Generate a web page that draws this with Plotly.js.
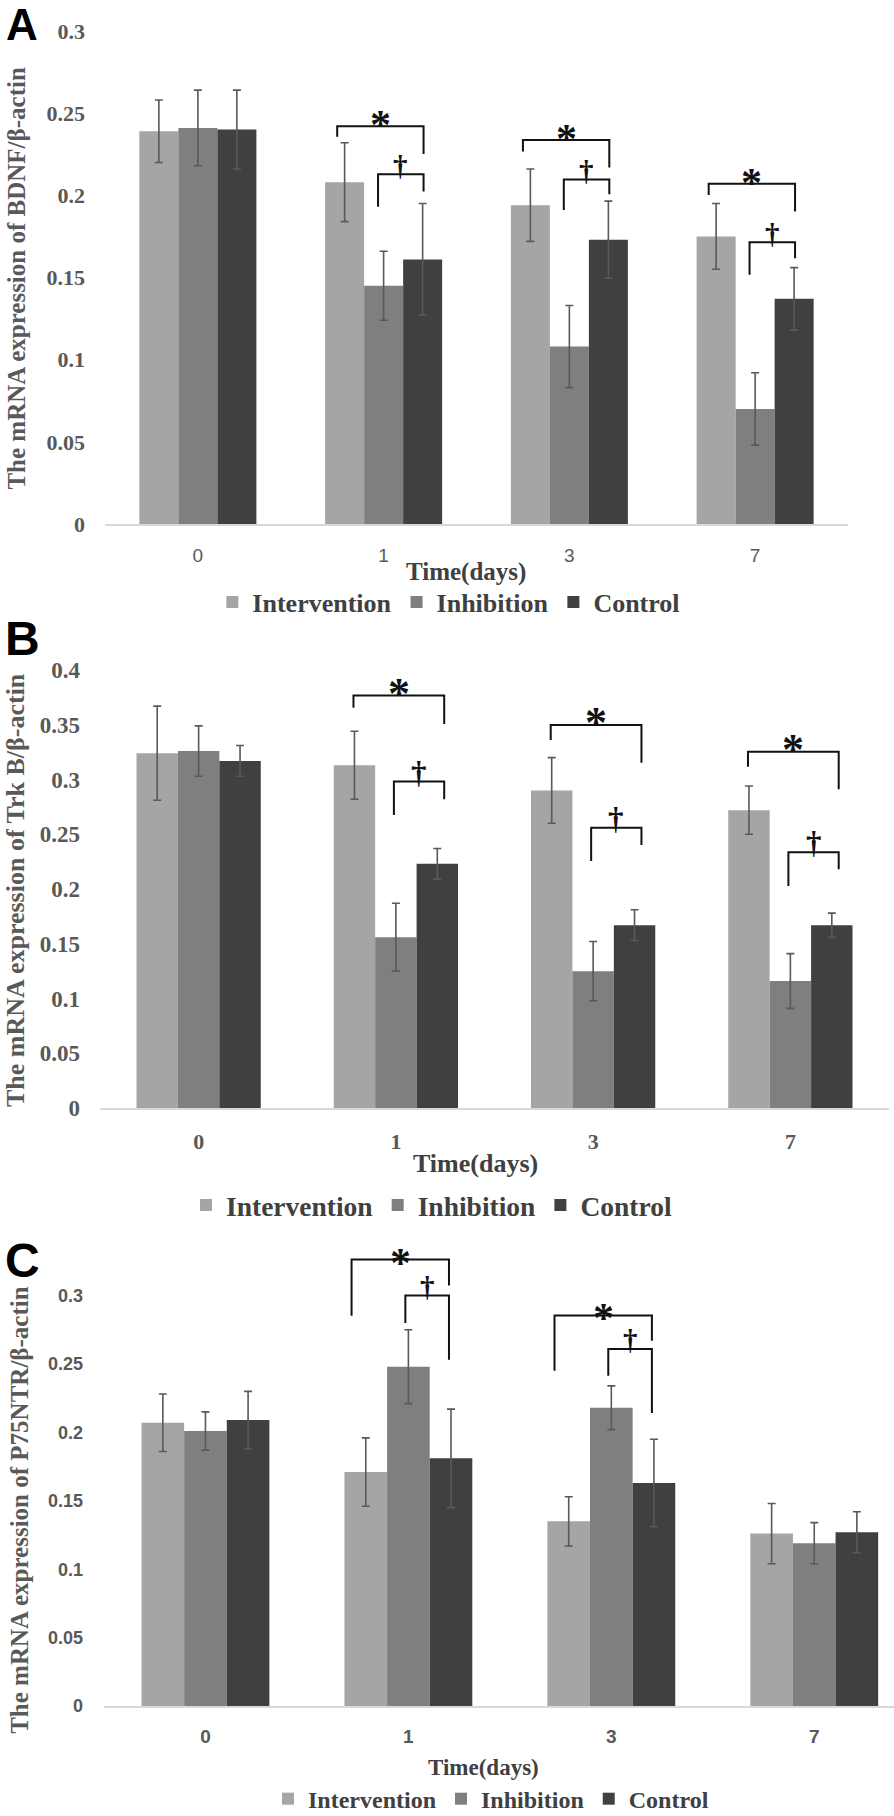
<!DOCTYPE html>
<html>
<head>
<meta charset="utf-8">
<script src="https://cdn.plot.ly/plotly-3.0.1.min.js"></script>
<style>
  body { margin: 0; background: #fff; }
  .panel { position: absolute; left: 0; width: 894px; }
</style>
</head>
<body>
<div id="pA" class="panel" style="top:0;height:622px"></div>
<div id="pB" class="panel" style="top:598px;height:632px"></div>
<div id="pC" class="panel" style="top:1220px;height:596px"></div>
<script>
  // --- data ---
  const days = ['0', '1', '3', '7'];
  const groups = ['Intervention', 'Inhibition', 'Control'];

  // A: BDNF / beta-actin
  const bdnfIntervention = [0.239, 0.208, 0.194, 0.175];
  const bdnfInterventionErr = [0.019, 0.024, 0.022, 0.020];
  const bdnfInhibition = [0.241, 0.145, 0.108, 0.070];
  const bdnfInhibitionErr = [0.023, 0.021, 0.025, 0.022];
  const bdnfControl = [0.240, 0.161, 0.173, 0.137];
  const bdnfControlErr = [0.024, 0.034, 0.0235, 0.019];
  const bdnfTicks = [0, 0.05, 0.1, 0.15, 0.2, 0.25, 0.3];

  // B: Trk B / beta-actin
  const trkbIntervention = [0.324, 0.313, 0.290, 0.272];
  const trkbInterventionErr = [0.043, 0.031, 0.030, 0.022];
  const trkbInhibition = [0.326, 0.156, 0.125, 0.116];
  const trkbInhibitionErr = [0.023, 0.031, 0.027, 0.025];
  const trkbControl = [0.317, 0.223, 0.167, 0.167];
  const trkbControlErr = [0.014, 0.014, 0.014, 0.011];
  const trkbTicks = [0, 0.05, 0.1, 0.15, 0.2, 0.25, 0.3, 0.35, 0.4];

  // C: P75NTR / beta-actin
  const p75Intervention = [0.207, 0.171, 0.135, 0.126];
  const p75InterventionErr = [0.021, 0.025, 0.018, 0.022];
  const p75Inhibition = [0.201, 0.248, 0.218, 0.119];
  const p75InhibitionErr = [0.014, 0.027, 0.016, 0.015];
  const p75Control = [0.209, 0.181, 0.163, 0.127];
  const p75ControlErr = [0.021, 0.036, 0.032, 0.015];
  const p75Ticks = [0, 0.05, 0.1, 0.15, 0.2, 0.25, 0.3];

  // significance brackets: [day index, from bar, to bar, line level, left tip, right tip]
  const bdnfStar = [[1, 0, 2, 0.242, 0.2356, 0.2252], [2, 0, 2, 0.2337, 0.2266, 0.2169], [3, 0, 2, 0.2071, 0.2002, 0.1901]];
  const bdnfDagger = [[1, 1, 2, 0.2128, 0.1931, 0.2023], [2, 1, 2, 0.2097, 0.1911, 0.2007], [3, 1, 2, 0.1715, 0.1516, 0.1617]];
  const trkbStar = [[1, 0, 2, 0.3766, 0.3656, 0.3507], [2, 0, 2, 0.3498, 0.336, 0.3154], [3, 0, 2, 0.3254, 0.3117, 0.2911]];
  const trkbDagger = [[1, 1, 2, 0.2981, 0.2676, 0.282], [2, 1, 2, 0.256, 0.2256, 0.2402], [3, 1, 2, 0.2335, 0.2027, 0.218]];
  const p75Star = [[1, 0, 2, 0.3263, 0.2853, 0.3073], [2, 0, 2, 0.2855, 0.245, 0.267]];
  const p75Dagger = [[1, 1, 2, 0.300, 0.28, 0.2531], [2, 1, 2, 0.261, 0.2414, 0.2141]];

  // --- styling ---
  const W = 894;
  const colors = ['#a5a5a5', '#7f7f7f', '#404040'];
  const bargap = 0.37;
  const barW = (1 - bargap) / 3;
  const serif = 'Liberation Serif, Times New Roman, serif';
  const sans = 'Liberation Sans, Arial, sans-serif';
  const narrow = 'Liberation Sans Narrow, Liberation Sans, Arial, sans-serif';

  // p.plot = [left, right, top, bottom] of the plot area in page pixels
  function makePanel(id, p) {
    const H = p.height, top = p.top;
    const m = { l: p.plot[0], r: W - p.plot[1], t: p.plot[2] - top, b: top + H - p.plot[3] };
    const pw = W - m.l - m.r, ph = H - m.t - m.b;
    const px = x => (x - m.l) / pw;               // page px -> paper x
    const py = y => (H - m.b - (y - top)) / ph;   // page px -> paper y

    const traces = groups.map((g, i) => ({
      type: 'bar', name: g, x: days, y: p.values[i],
      marker: { color: colors[i], line: { width: 0 } },
      error_y: { type: 'data', array: p.errors[i], visible: true,
                 color: '#595959', thickness: 1.6, width: 4 },
      hoverinfo: 'skip'
    }));

    const shapes = [], annotations = [];
    const addBrackets = (list, sym) => list.forEach(([d, b0, b1, yLine, yL, yR]) => {
      const x0 = d + (b0 - 1) * barW + (b0 === 0 ? p.dxL0 : p.dxL1);
      const x1 = d + (b1 - 1) * barW + p.dxR;
      shapes.push({ type: 'path', xref: 'x', yref: 'y', layer: 'above',
        path: `M${x0},${yL} L${x0},${yLine} L${x1},${yLine} L${x1},${yR}`,
        line: { color: '#111', width: 2 } });
      const isStar = sym === '*';
      annotations.push({ xref: 'x', yref: 'y', x: (x0 + x1) / 2, y: yLine,
        text: sym, showarrow: false, xanchor: 'center', yanchor: 'bottom',
        yshift: isStar ? p.star[1] : p.dagger[1],
        font: { family: serif, size: isStar ? p.star[0] : p.dagger[0], color: '#111', weight: 'bold' } });
    });
    addBrackets(p.starList, '*');
    addBrackets(p.daggerList, '\u2020');

    // panel letter
    annotations.push({ xref: 'paper', yref: 'paper', x: px(p.letter[0]), y: py(p.letter[1]),
      xanchor: 'left', yanchor: 'top', text: p.letter[2], showarrow: false,
      font: { family: sans, size: p.letter[3], color: '#000', weight: 'bold' } });
    // x title
    annotations.push({ xref: 'paper', yref: 'paper', x: px(p.xTitle[0]), y: py(p.xTitle[1]),
      xanchor: 'center', yanchor: 'middle', text: 'Time(days)', showarrow: false,
      font: { family: serif, size: p.xTitle[2], color: '#404040', weight: 'bold' } });
    // y title
    annotations.push({ xref: 'paper', yref: 'paper', x: px(p.yTitle[0]), y: py(p.yTitle[1]),
      xanchor: 'center', yanchor: 'middle', textangle: -90, text: p.yTitle[3], showarrow: false,
      font: { family: serif, size: p.yTitle[2], color: '#595959', weight: 'bold' } });

    const layout = {
      width: W, height: H,
      margin: { l: m.l, r: m.r, t: m.t, b: m.b, pad: 0, autoexpand: false },
      paper_bgcolor: 'rgba(0,0,0,0)', plot_bgcolor: 'rgba(0,0,0,0)',
      barmode: 'group', bargap: bargap, bargroupgap: 0,
      showlegend: true,
      legend: { orientation: 'h', x: px(p.legend[0]), y: py(p.legend[1]),
                xanchor: 'left', yanchor: 'middle', traceorder: 'normal',
                font: { family: serif, size: p.legend[2], color: '#404040', weight: 'bold' } },
      xaxis: { type: 'category', range: p.xRange, showline: true, linecolor: '#d9d9d9', linewidth: 2,
               ticks: '', showgrid: false, zeroline: false, ticklabelstandoff: p.xStandoff,
               tickfont: p.xTickFont },
      yaxis: { range: p.yRange, tickvals: p.ticks, ticktext: p.ticks.map(String),
               showgrid: false, zeroline: false, showline: false, ticks: '',
               ticklabelstandoff: p.yStandoff, tickfont: p.yTickFont },
      shapes: shapes, annotations: annotations
    };
    Plotly.newPlot(id, traces, layout, { staticPlot: true, displayModeBar: false });
  }

  makePanel('pA', {
    top: 0, height: 622, plot: [104.5, 848.5, 31, 524],
    values: [bdnfIntervention, bdnfInhibition, bdnfControl],
    errors: [bdnfInterventionErr, bdnfInhibitionErr, bdnfControlErr],
    ticks: bdnfTicks, yRange: [0, 0.3], xRange: [-0.5, 3.5],
    starList: bdnfStar, daggerList: bdnfDagger, dxL0: -0.04, dxL1: -0.03, dxR: 0.005,
    star: [42, -24], dagger: [29, -10],
    letter: [3, -2, 'A', 44],
    xTitle: [466, 572, 25], yTitle: [15, 278, 25, 'The mRNA expression of BDNF/\u03b2-actin'],
    legend: [212, 602, 26],
    xStandoff: 13, yStandoff: 19,
    xTickFont: { family: narrow, size: 19, color: '#595959' },
    yTickFont: { family: serif, size: 22, color: '#595959', weight: 'bold' }
  });

  makePanel('pB', {
    top: 598, height: 632, plot: [100, 889, 670, 1108],
    values: [trkbIntervention, trkbInhibition, trkbControl],
    errors: [trkbInterventionErr, trkbInhibitionErr, trkbControlErr],
    ticks: trkbTicks, yRange: [0, 0.4], xRange: [-0.5, 3.5],
    starList: trkbStar, daggerList: trkbDagger, dxL0: -0.005, dxL1: -0.01, dxR: 0.035,
    star: [44, -24], dagger: [31, -10],
    letter: [3, 610, 'B', 48],
    xTitle: [475, 1163, 26], yTitle: [15, 890, 26, 'The mRNA expression of Trk B/\u03b2-actin'],
    legend: [186, 1205, 27.5],
    xStandoff: 13, yStandoff: 19,
    xTickFont: { family: serif, size: 22, color: '#595959', weight: 'bold' },
    yTickFont: { family: serif, size: 23, color: '#595959', weight: 'bold' }
  });

  makePanel('pC', {
    top: 1220, height: 596, plot: [104, 894, 1234.4, 1706],
    values: [p75Intervention, p75Inhibition, p75Control],
    errors: [p75InterventionErr, p75InhibitionErr, p75ControlErr],
    ticks: p75Ticks, yRange: [0, 0.345], xRange: [-0.5, 3.393],
    starList: p75Star, daggerList: p75Dagger, dxL0: -0.07, dxL1: -0.015, dxR: -0.01,
    star: [42, -28], dagger: [29, -9],
    letter: [3, 1232, 'C', 48],
    xTitle: [483, 1767, 23], yTitle: [20, 1510, 25, 'The mRNA expression of P75NTR/\u03b2-actin'],
    legend: [268, 1799, 24],
    xStandoff: 12, yStandoff: 20,
    xTickFont: { family: narrow, size: 19, color: '#595959', weight: 'bold' },
    yTickFont: { family: sans, size: 18, color: '#595959', weight: 'bold' }
  });
</script>
</body>
</html>
